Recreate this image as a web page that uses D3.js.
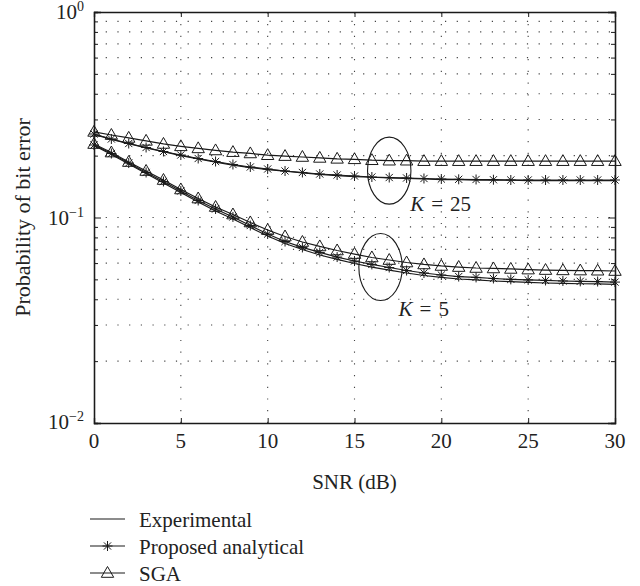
<!DOCTYPE html>
<html><head><meta charset="utf-8">
<script src="https://cdn.jsdelivr.net/npm/d3@7"></script>
<style>
body{margin:0;background:#fff}
text{font-family:"Liberation Serif","Times New Roman",serif;fill:#222}
</style>
</head><body>
<svg id="chart" width="640" height="586"></svg>
<script>
// ---------- data ----------
const snr = [0,1,2,3,4,5,6,7,8,9,10,11,12,13,14,15,16,17,18,19,20,21,22,23,24,25,26,27,28,29,30];

const expK25 = [0.254,0.240,0.229,0.218,0.209,0.200,0.193,0.186,0.180,0.175,0.171,0.168,0.165,0.162,0.160,0.158,0.157,0.156,0.155,0.154,0.153,0.153,0.152,0.152,0.152,0.151,0.151,0.151,0.151,0.151,0.151];
const propK25 = [0.2549,0.2410,0.2291,0.2191,0.2095,0.2014,0.1937,0.1873,0.1811,0.1761,0.1722,0.1684,0.1656,0.1628,0.1610,0.1592,0.1574,0.1565,0.1557,0.1548,0.1539,0.1534,0.1531,0.1527,0.1522,0.1522,0.1522,0.1522,0.1522,0.1522,0.1522];
const sgaK25  = [0.261,0.252,0.244,0.236,0.228,0.222,0.217,0.212,0.208,0.205,0.201,0.199,0.197,0.195,0.193,0.192,0.190,0.189,0.189,0.188,0.188,0.188,0.188,0.188,0.188,0.188,0.188,0.188,0.188,0.188,0.188];

const expK5  = [0.2241,0.2026,0.1821,0.1637,0.1472,0.1324,0.1190,0.1076,0.0983,0.0894,0.0813,0.0747,0.0699,0.0657,0.0625,0.0597,0.0574,0.0555,0.0537,0.0522,0.0511,0.0502,0.0497,0.0491,0.0487,0.0483,0.0480,0.0478,0.0476,0.0475,0.0473];
const propK5 = [0.2253,0.2048,0.1841,0.1656,0.1497,0.1346,0.1210,0.1100,0.1006,0.0914,0.0831,0.0764,0.0715,0.0676,0.0642,0.0614,0.0591,0.0571,0.0552,0.0537,0.0525,0.0516,0.0511,0.0505,0.0500,0.0497,0.0494,0.0491,0.0489,0.0488,0.0485];
const sgaK5  = [0.2278,0.2071,0.1862,0.1684,0.1522,0.1369,0.1237,0.1125,0.1034,0.0946,0.0869,0.0808,0.0760,0.0723,0.0691,0.0664,0.0639,0.0621,0.0604,0.0591,0.0581,0.0574,0.0568,0.0565,0.0562,0.0558,0.0555,0.0553,0.0552,0.0551,0.0549];

const xTicks = [0,5,10,15,20,25,30];
const yMajor = [1,0.1,0.01];
const yMajorExp = ["0","\u22121","\u22122"];
const yMinor = [0.02,0.03,0.04,0.05,0.06,0.07,0.08,0.09,0.2,0.3,0.4,0.5,0.6,0.7,0.8,0.9];

const legendLabels = ["Experimental","Proposed analytical","SGA"];
const kLabels = ["25","5"];
const ellipseCenters = [[17,0.169],[16.5,0.0574]];

// ---------- layout ----------
const L=94,R=615,T=12,B=423;
const FS = 21;
const svg = d3.select("#chart");
const x = d3.scaleLinear().domain([0,30]).range([L,R]);
const y = d3.scaleLog().domain([0.01,1]).range([B,T]);
const ink = "#1a1a1a";

// grid
const grid = svg.append("g").attr("stroke","#444").attr("stroke-width",1.1).attr("stroke-dasharray","1.2,10.5");
grid.selectAll("line.v").data(xTicks.slice(1,-1)).join("line")
  .attr("x1",d=>x(d)).attr("x2",d=>x(d)).attr("y1",B).attr("y2",T);
grid.selectAll("line.h").data(yMinor.concat([0.1])).join("line")
  .attr("x1",L).attr("x2",R).attr("y1",d=>y(d)).attr("y2",d=>y(d));

// axes with inward ticks (d3 axes)
const axB = d3.axisBottom(x).tickValues(xTicks).tickSize(-5).tickFormat("");
const axT = d3.axisTop(x).tickValues(xTicks).tickSize(-5).tickFormat("");
const axLmin = d3.axisLeft(y).tickValues(yMinor).tickSize(-4).tickFormat("");
const axRmin = d3.axisRight(y).tickValues(yMinor).tickSize(-4).tickFormat("");
const axLmaj = d3.axisLeft(y).tickValues(yMajor).tickSize(-7).tickFormat("");
const axRmaj = d3.axisRight(y).tickValues(yMajor).tickSize(-7).tickFormat("");
function styleAx(g){g.selectAll("path").attr("stroke",ink).attr("stroke-width",1.3);g.selectAll("line").attr("stroke",ink).attr("stroke-width",1);}
svg.append("g").attr("transform",`translate(0,${B})`).call(axB).call(styleAx);
svg.append("g").attr("transform",`translate(0,${T})`).call(axT).call(styleAx);
svg.append("g").attr("transform",`translate(${L},0)`).call(axLmin).call(styleAx);
svg.append("g").attr("transform",`translate(${R},0)`).call(axRmin).call(styleAx);
svg.append("g").attr("transform",`translate(${L},0)`).call(axLmaj).call(styleAx);
svg.append("g").attr("transform",`translate(${R},0)`).call(axRmaj).call(styleAx);

// tick labels
svg.selectAll("text.xt").data(xTicks).join("text").attr("class","xt")
  .attr("x",d=>x(d)).attr("y",B+25).attr("text-anchor","middle").attr("font-size",FS).text(d=>d);
yMajor.forEach((v,i)=>{
  const t = svg.append("text").attr("x",84).attr("y",y(v)+(i===2?6:7)).attr("text-anchor","end").attr("font-size",FS);
  t.append("tspan").text("10");
  t.append("tspan").attr("dy",-8).attr("font-size",14).text(yMajorExp[i]);
});

// axis titles
svg.append("text").attr("x",(L+R)/2).attr("y",489).attr("text-anchor","middle").attr("font-size",FS).text("SNR (dB)");
svg.append("text").attr("transform",`translate(29.5,${(T+B)/2}) rotate(-90)`).attr("text-anchor","middle").attr("font-size",FS+1).text("Probability of bit error");

// series
const line = d3.line().x((d,i)=>x(snr[i])).y(d=>y(d));
const series = [expK25,propK25,sgaK25,expK5,propK5,sgaK5];
svg.append("g").selectAll("path").data(series).join("path")
  .attr("d",line).attr("fill","none").attr("stroke",ink).attr("stroke-width",1.2);

const starPath = "M0,-5V5M-5,0H5M-3.6,-3.6L3.6,3.6M-3.6,3.6L3.6,-3.6";
const triPath = "M0,-6.5L6.2,4.3L-6.2,4.3Z";
function markers(data,path){
  svg.append("g").selectAll("path").data(data).join("path")
    .attr("transform",(d,i)=>`translate(${x(snr[i])},${y(d)})`)
    .attr("d",path).attr("fill","none").attr("stroke",ink).attr("stroke-width",1);
}
markers(propK25,starPath); markers(propK5,starPath);
markers(sgaK25,triPath); markers(sgaK5,triPath);

// ellipses + labels
ellipseCenters.forEach((c,i)=>{
  const cx=x(c[0]), cy=y(c[1]);
  svg.append("ellipse").attr("cx",cx).attr("cy",cy).attr("rx",21.7).attr("ry",33.5)
    .attr("fill","none").attr("stroke",ink).attr("stroke-width",1.1);
  const t = svg.append("text").attr("font-size",FS)
    .attr("x", cx + (i===0?21:18)).attr("y", cy + (i===0?40:49));
  t.append("tspan").attr("font-style","italic").text("K");
  t.append("tspan").attr("dx",7).text("=");
  t.append("tspan").attr("dx",7).text(kLabels[i]);
});

// legend
const legY = [519,546,573];
const legPaths = [null,starPath,triPath];
legendLabels.forEach((lab,i)=>{
  svg.append("line").attr("x1",90).attr("x2",125).attr("y1",legY[i]).attr("y2",legY[i]).attr("stroke",ink).attr("stroke-width",1.2);
  if(legPaths[i]) svg.append("path").attr("d",legPaths[i]).attr("transform",`translate(107.5,${legY[i]})`).attr("fill","none").attr("stroke",ink).attr("stroke-width",1);
  svg.append("text").attr("x",139).attr("y",legY[i]+7.5).attr("font-size",FS).text(lab);
});
</script>
</body></html>
